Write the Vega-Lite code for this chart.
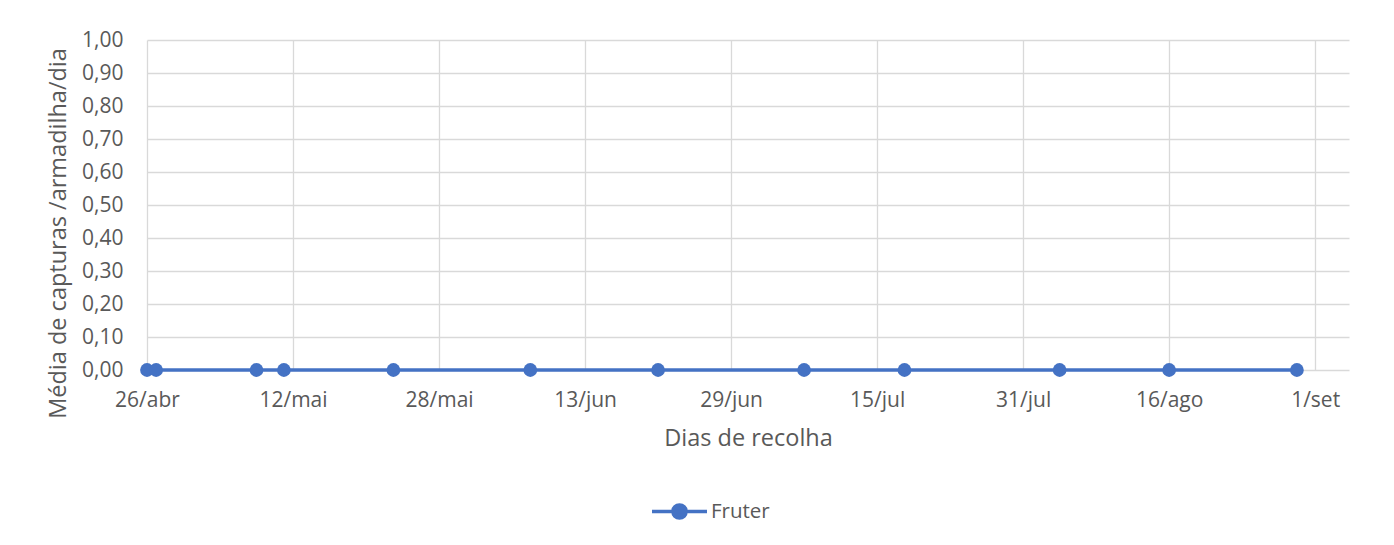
{
  "$schema": "https://vega.github.io/schema/vega-lite/v6.json",
  "autosize": {"type": "none"},
  "width": 1202,
  "height": 330,
  "padding": {"left": 147, "top": 40, "right": 45, "bottom": 175},
  "background": "white",
  "config": {
    "view": {"stroke": null},
    "font": "Open Sans",
    "axis": {"labelColor": "#595959", "titleColor": "#595959", "labelFont": "Open Sans", "titleFont": "Open Sans", "titleFontWeight": "normal", "gridColor": "#d9d9d9", "gridWidth": 1.3, "domain": false, "ticks": false},
    "legend": {"labelColor": "#595959", "labelFont": "Open Sans"}
  },
  "data": {
    "values": [
      {"date": "2023-04-26", "valor": 0, "serie": "Fruter"},
      {"date": "2023-04-27", "valor": 0, "serie": "Fruter"},
      {"date": "2023-05-08", "valor": 0, "serie": "Fruter"},
      {"date": "2023-05-11", "valor": 0, "serie": "Fruter"},
      {"date": "2023-05-23", "valor": 0, "serie": "Fruter"},
      {"date": "2023-06-07", "valor": 0, "serie": "Fruter"},
      {"date": "2023-06-21", "valor": 0, "serie": "Fruter"},
      {"date": "2023-07-07", "valor": 0, "serie": "Fruter"},
      {"date": "2023-07-18", "valor": 0, "serie": "Fruter"},
      {"date": "2023-08-04", "valor": 0, "serie": "Fruter"},
      {"date": "2023-08-16", "valor": 0, "serie": "Fruter"},
      {"date": "2023-08-30", "valor": 0, "serie": "Fruter"}
    ]
  },
  "encoding": {
    "x": {
      "field": "date",
      "type": "temporal",
      "title": "Dias de recolha",
      "scale": {"type": "utc", "nice": false, "domain": [{"year": 2023, "month": 4, "date": 26, "utc": true}, {"year": 2023, "month": 9, "date": 4, "hours": 17, "utc": true}]},
      "axis": {
        "values": [
          {"year": 2023, "month": 4, "date": 26, "utc": true},
          {"year": 2023, "month": 5, "date": 12, "utc": true},
          {"year": 2023, "month": 5, "date": 28, "utc": true},
          {"year": 2023, "month": 6, "date": 13, "utc": true},
          {"year": 2023, "month": 6, "date": 29, "utc": true},
          {"year": 2023, "month": 7, "date": 15, "utc": true},
          {"year": 2023, "month": 7, "date": 31, "utc": true},
          {"year": 2023, "month": 8, "date": 16, "utc": true},
          {"year": 2023, "month": 9, "date": 1, "utc": true}
        ],
        "labelExpr": "utcdate(datum.value) + '/' + ['jan','fev','mar','abr','mai','jun','jul','ago','set','out','nov','dez'][utcmonth(datum.value)]",
        "labelFontSize": 21,
        "labelPadding": 19,
        "titleFontSize": 23.5,
        "titlePadding": 16,
        "grid": true,
        "labelFlush": false
      }
    },
    "y": {
      "field": "valor",
      "type": "quantitative",
      "title": "Média de capturas /armadilha/dia",
      "scale": {"domain": [0, 1], "nice": false},
      "axis": {
        "values": [0, 0.1, 0.2, 0.3, 0.4, 0.5, 0.6, 0.7, 0.8, 0.9, 1.0],
        "labelExpr": "replace(format(datum.value, '.2f'), '.', ',')",
        "labelFontSize": 21,
        "labelPadding": 24,
        "titleFontSize": 23.5,
        "titlePadding": 11,
        "titleY": 193
      }
    },
    "color": {
      "field": "serie",
      "type": "nominal",
      "title": null,
      "scale": {"range": ["#4472C4"]},
      "legend": {
        "orient": "none",
        "legendX": 503,
        "legendY": 442,
        "symbolType": "M-1,0H1M0.24,0A0.24,0.24 0 1,1 -0.24,0A0.24,0.24 0 1,1 0.24,0Z",
        "symbolSize": 3025,
        "symbolStrokeWidth": 3.5,
        "symbolFillColor": "#4472C4",
        "symbolStrokeColor": "#4472C4",
        "labelFontSize": 20.5,
        "labelOffset": 2
      }
    }
  },
  "layer": [
    {"mark": {"type": "line", "strokeWidth": 3.5}},
    {"mark": {"type": "point", "filled": true, "opacity": 1, "size": 190, "shape": "circle"}}
  ]
}
